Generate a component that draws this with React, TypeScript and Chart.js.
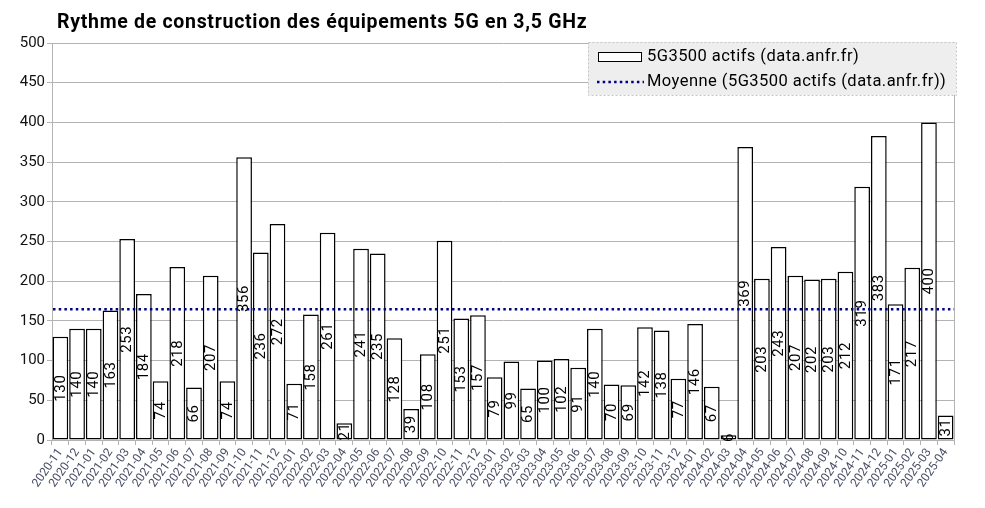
import { useEffect, useRef } from "react";
import { Chart, registerables } from "chart.js";

Chart.register(...registerables);

const TITLE = "Rythme de construction des équipements 5G en 3,5 GHz";
const SERIES_LABEL = "5G3500 actifs (data.anfr.fr)";
const MEAN_LABEL = "Moyenne (5G3500 actifs (data.anfr.fr))";

const months = [
  "2020-11", "2020-12",
  "2021-01", "2021-02", "2021-03", "2021-04", "2021-05", "2021-06",
  "2021-07", "2021-08", "2021-09", "2021-10", "2021-11", "2021-12",
  "2022-01", "2022-02", "2022-03", "2022-04", "2022-05", "2022-06",
  "2022-07", "2022-08", "2022-09", "2022-10", "2022-11", "2022-12",
  "2023-01", "2023-02", "2023-03", "2023-04", "2023-05", "2023-06",
  "2023-07", "2023-08", "2023-09", "2023-10", "2023-11", "2023-12",
  "2024-01", "2024-02", "2024-03", "2024-04", "2024-05", "2024-06",
  "2024-07", "2024-08", "2024-09", "2024-10", "2024-11", "2024-12",
  "2025-01", "2025-02", "2025-03", "2025-04",
];

const actifs = [
  130, 140,
  140, 163, 253, 184, 74, 218, 66, 207, 74, 356, 236, 272,
  71, 158, 261, 21, 241, 235, 128, 39, 108, 251, 153, 157,
  79, 99, 65, 100, 102, 91, 140, 70, 69, 142, 138, 77,
  146, 67, 6, 369, 203, 243, 207, 202, 203, 212, 319, 383,
  171, 217, 400, 31,
];

const Y_MIN = 0;
const Y_MAX = 500;
const Y_STEP = 50;

const moyenne = actifs.reduce((a, b) => a + b, 0) / actifs.length;

const FONT = "Roboto, 'Noto Sans', 'DejaVu Sans', sans-serif";
const GRID = "#b3b3b3";
const NAVY = "#000080";

export default function App() {
  const ref = useRef<HTMLCanvasElement | null>(null);

  useEffect(() => {
    if (!ref.current) return;

    const overlay = {
      id: "overlay",
      afterDatasetsDraw(chart: any) {
        const ctx = chart.ctx as any;
        const area = chart.chartArea;
        const y = chart.scales.y;
        // mean line
        const my = y.getPixelForValue(moyenne);
        ctx.save();
        ctx.strokeStyle = NAVY;
        ctx.lineWidth = 2.5;
        ctx.setLineDash([2.5, 3.2]);
        ctx.beginPath();
        ctx.moveTo(area.left + 1, my);
        ctx.lineTo(area.right, my);
        ctx.stroke();
        ctx.restore();

        // bar labels
        const meta = chart.getDatasetMeta(0);
        ctx.save();
        ctx.fillStyle = "#000";
        ctx.font = `15px ${FONT}`;
        ctx.letterSpacing = "0.6px";
        ctx.textAlign = "center";
        ctx.textBaseline = "middle";
        meta.data.forEach((el: any, i: number) => {
          const cy = (el.y + el.base) / 2;
          ctx.save();
          ctx.translate(el.x + 0.5, cy);
          ctx.rotate(-Math.PI / 2);
          ctx.fillText(String(actifs[i]), 0, 0);
          ctx.restore();
        });
        ctx.restore();
      },
      afterDraw(chart: any) {
        const ctx = chart.ctx as any;
        const area = chart.chartArea;
        ctx.save();
        // right border
        ctx.strokeStyle = GRID;
        ctx.lineWidth = 1;
        ctx.beginPath();
        ctx.moveTo(Math.round(area.right) + 0.5, area.top);
        ctx.lineTo(Math.round(area.right) + 0.5, area.bottom);
        ctx.stroke();

        // title
        ctx.fillStyle = "#000";
        ctx.font = `bold 19.5px ${FONT}`;
        ctx.letterSpacing = "0.7px";
        ctx.textAlign = "left";
        ctx.textBaseline = "alphabetic";
        ctx.fillText(TITLE, 57, 28);

        // legend
        const lx = 588, ly = 42, lw = 368, lh = 53;
        ctx.fillStyle = "#eeeeee";
        ctx.fillRect(lx, ly, lw, lh);
        ctx.strokeStyle = "#c4c4c4";
        ctx.lineWidth = 1;
        ctx.setLineDash([2, 2]);
        ctx.strokeRect(lx + 0.5, ly + 0.5, lw, lh);
        ctx.setLineDash([]);
        // bar swatch
        ctx.fillStyle = "#fff";
        ctx.fillRect(598, 52, 44, 10);
        ctx.strokeStyle = "#000";
        ctx.lineWidth = 1;
        ctx.strokeRect(598.5, 52.5, 43, 9);
        // dotted swatch
        ctx.strokeStyle = NAVY;
        ctx.lineWidth = 2.5;
        ctx.setLineDash([2.5, 3.2]);
        ctx.beginPath();
        ctx.moveTo(597, 82);
        ctx.lineTo(644, 82);
        ctx.stroke();
        ctx.setLineDash([]);
        ctx.fillStyle = "#000";
        ctx.font = `16.5px ${FONT}`;
        ctx.letterSpacing = "0.45px";
        ctx.textBaseline = "middle";
        ctx.fillText(SERIES_LABEL, 647, 57);
        ctx.fillText(MEAN_LABEL, 647, 82);
        ctx.restore();
      },
    };

    const chart = new Chart(ref.current, {
      type: "bar",
      data: {
        labels: months,
        datasets: [
          {
            label: SERIES_LABEL,
            data: actifs,
            backgroundColor: "#ffffff",
            borderColor: "#000000",
            borderWidth: 1.5,
            borderSkipped: false,
            barPercentage: 0.94,
            categoryPercentage: 1,
          },
        ],
      },
      options: {
        responsive: false,
        animation: false,
        devicePixelRatio: 1,
        layout: { padding: { top: 43, right: 31, left: 0, bottom: 0 } },
        plugins: {
          legend: { display: false },
          title: { display: false },
          tooltip: { enabled: false },
        },
        scales: {
          x: {
            afterFit(scale: any) {
              scale.height = 68;
            },
            grid: {
              offset: true,
              drawOnChartArea: false,
              color: GRID,
              tickLength: 5,
            },
            border: { display: true, color: GRID },
            ticks: {
              autoSkip: false,
              minRotation: 55,
              maxRotation: 55,
              padding: 1,
              color: "#4a4f66",
              font: { family: FONT, size: 12 },
            },
          },
          y: {
            min: Y_MIN,
            max: Y_MAX,
            afterFit(scale: any) {
              scale.width = 52;
            },
            ticks: {
              stepSize: Y_STEP,
              padding: 2,
              color: "#111",
              font: { family: FONT, size: 15 },
            },
            grid: { color: GRID, tickLength: 5 },
            border: { display: true, color: GRID },
          },
        },
      },
      plugins: [overlay],
    });

    return () => chart.destroy();
  }, []);

  return (
    <div style={{ position: "absolute", left: 0, top: 0, width: 985, height: 508, background: "#fff" }}>
      <canvas ref={ref} width={985} height={508} />
    </div>
  );
}
